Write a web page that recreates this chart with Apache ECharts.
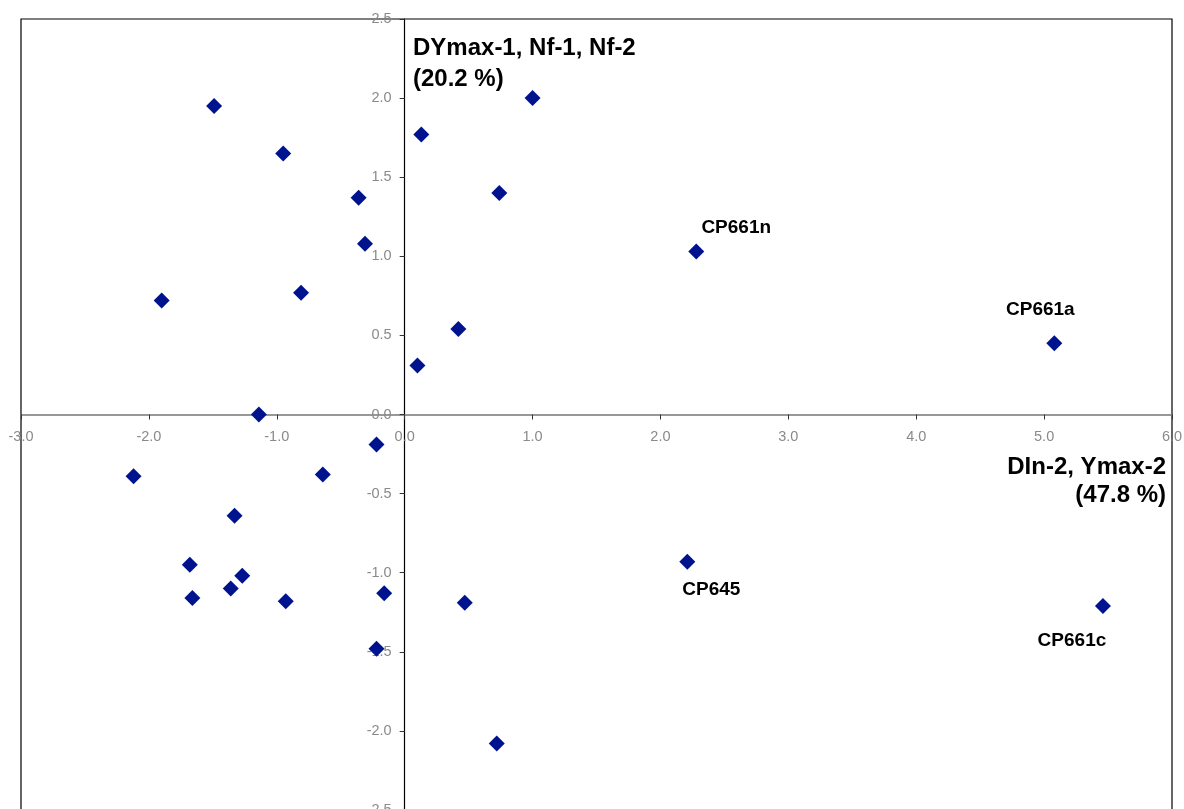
<!DOCTYPE html>
<html>
<head>
<meta charset="utf-8">
<script src="https://cdn.jsdelivr.net/npm/echarts@6/dist/echarts.min.js"></script>
<style>
html,body{margin:0;padding:0;background:#fff;}
#chart{width:1184px;height:809px;}
</style>
</head>
<body>
<div id="chart"></div>
<script>
// Data
var xValues = [-1.49, -0.95, -0.36, -0.31, -0.81, -1.90, -1.14, 0.10, 0.13, 1.00, 0.74, 0.42,
               2.28, 5.08, 2.21, 5.46,
               -2.12, -0.64, -0.22, -1.33, -1.68, -1.27, -1.36, -1.66, -0.93, -0.16, -0.22, 0.47, 0.72];
var yValues = [1.95, 1.65, 1.37, 1.08, 0.77, 0.72, 0.00, 0.31, 1.77, 2.00, 1.40, 0.54,
               1.03, 0.45, -0.93, -1.21,
               -0.39, -0.38, -0.19, -0.64, -0.95, -1.02, -1.10, -1.16, -1.18, -1.13, -1.48, -1.19, -2.08];
var pointNames = ['', '', '', '', '', '', '', '', '', '', '', '',
                  'CP661n', 'CP661a', 'CP645', 'CP661c',
                  '', '', '', '', '', '', '', '', '', '', '', '', ''];
var xAxisTitle = ['DIn-2, Ymax-2', '(47.8 %)'];
var yAxisTitle = ['DYmax-1, Nf-1, Nf-2', '(20.2 %)'];

var labelOffsets = {
  'CP661n': [40, -24],
  'CP661a': [-14, -34],
  'CP645': [24, 28],
  'CP661c': [-31, 35]
};

var seriesData = xValues.map(function (x, i) {
  var item = { value: [x, yValues[i]], name: pointNames[i] };
  if (pointNames[i]) {
    item.label = {
      show: true,
      position: 'inside',
      align: 'center',
      verticalAlign: 'middle',
      offset: labelOffsets[pointNames[i]],
      formatter: '{b}',
      color: '#000',
      opacity: 1,
      fontWeight: 'bold',
      fontSize: 19,
      fontFamily: '"Liberation Sans", Arial, sans-serif'
    };
  }
  return item;
});

var labelFont = {
  color: '#8a8a8a',
  fontSize: 14.5,
  fontFamily: '"Liberation Sans", Arial, sans-serif'
};

var titleFont = 'bold 24px "Liberation Sans", Arial, sans-serif';

var chart = echarts.init(document.getElementById('chart'));
var option = {
  animation: false,
  backgroundColor: '#fff',
  grid: {
    left: 21, top: 19, right: 12, bottom: -1,
    containLabel: false,
    outerBoundsMode: 'none',
    show: true, borderColor: '#000', borderWidth: 1.2, backgroundColor: 'transparent'
  },
  xAxis: {
    type: 'value', min: -3, max: 6, interval: 1, position: 'bottom', offset: 0,
    axisLine: { show: true, onZero: false, lineStyle: { color: '#777', width: 1.5 } },
    axisTick: { show: true, inside: false, length: 5, lineStyle: { color: '#333' } },
    splitLine: { show: false },
    axisLabel: Object.assign({
      margin: 15,
      showMinLabel: true, showMaxLabel: true,
      formatter: function (v) { return v.toFixed(1); }
    }, labelFont)
  },
  yAxis: {
    type: 'value', min: -2.5, max: 2.5, interval: 0.5, position: 'left', offset: 0,
    axisLine: { show: true, onZero: false, lineStyle: { color: '#000', width: 1.2 } },
    axisTick: { show: true, inside: false, length: 5, lineStyle: { color: '#333' } },
    splitLine: { show: false },
    axisLabel: Object.assign({
      margin: 13,
      showMinLabel: true, showMaxLabel: true,
      formatter: function (v) { return v.toFixed(1); }
    }, labelFont)
  },
  series: [{
    type: 'scatter',
    symbol: 'diamond',
    symbolSize: 16,
    itemStyle: { color: '#00138f', opacity: 1 },
    label: { show: false },
    data: seriesData,
    z: 5
  }],
  graphic: [
    { type: 'text', left: 413, top: 36, style: { text: yAxisTitle[0], font: titleFont, fill: '#000' } },
    { type: 'text', left: 413, top: 67, style: { text: yAxisTitle[1], font: titleFont, fill: '#000' } },
    { type: 'text', right: 18, top: 455, style: { text: xAxisTitle[0], font: titleFont, fill: '#000', align: 'right' } },
    { type: 'text', right: 18, top: 483, style: { text: xAxisTitle[1], font: titleFont, fill: '#000', align: 'right' } }
  ]
};
chart.setOption(option);

// Move both axes (line, ticks and labels) onto the zero lines using the library's own scale
var origin = chart.convertToPixel({ gridIndex: 0 }, [0, 0]);
var corner = chart.convertToPixel({ gridIndex: 0 }, [-3, -2.5]);
chart.setOption({
  xAxis: { offset: -(corner[1] - origin[1]) },
  yAxis: { offset: -(origin[0] - corner[0]) }
});
</script>
</body>
</html>
